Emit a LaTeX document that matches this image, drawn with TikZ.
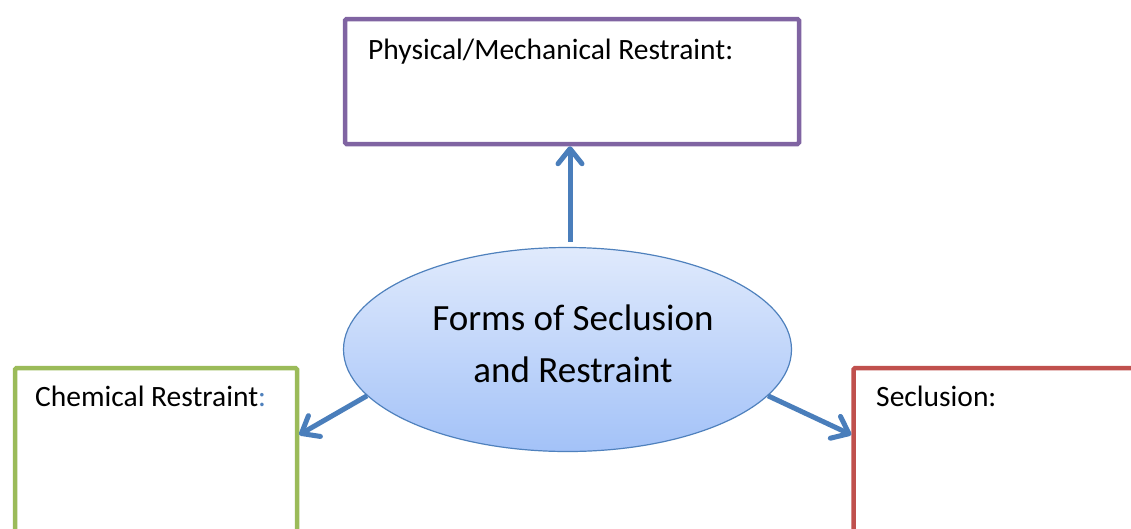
\documentclass[tikz,border=0pt]{standalone}
\usepackage{fontspec}
\setmainfont{Carlito}
\usetikzlibrary{shapes.geometric,arrows.meta,calc}
\definecolor{arrblue}{RGB}{74,126,187}
\definecolor{ellborder}{RGB}{79,129,189}
\definecolor{elltop}{RGB}{224,234,252}
\definecolor{ellbot}{RGB}{163,194,248}
\definecolor{purp}{RGB}{128,100,162}
\definecolor{grn}{RGB}{155,187,89}
\definecolor{rd}{RGB}{192,80,77}
\definecolor{colonblue}{RGB}{79,129,189}
\begin{document}
\begin{tikzpicture}[x=1pt,y=-1pt,
  box/.style={draw, line width=4.5pt, rounded corners=1.5pt, inner sep=0pt, fill=white},
  lbl/.style={anchor=base west, inner sep=0pt, font=\fontsize{29.5}{35}\selectfont},
  arr/.style={draw=arrblue, line width=5pt, -{Straight Barb[length=15pt,width=24pt,round]}}]
\useasboundingbox (0,0) rectangle (1131,528);
\clip (0,0) rectangle (1131,528);
\fill[white] (0,0) rectangle (1131,528);
% boxes
\node[box, draw=purp, minimum width=454pt, minimum height=125pt] (phys) at (572,81.5) {};
\node[box, draw=grn, minimum width=282pt, minimum height=232pt] (chem) at (156,484) {};
\node[box, draw=rd, minimum width=346pt, minimum height=232pt] (secl) at (1026.5,484) {};
% labels
\node[lbl] (physlbl) at (368,59) {Physical/Mechanical Restraint:};
\node[lbl] (chemlbl) at (35,406) {Chemical Restraint\textcolor{colonblue}{:}};
\node[lbl] (secllbl) at (876,406) {Seclusion:};
% hub
\node[ellipse, draw=ellborder, line width=1.2pt, top color=elltop, bottom color=ellbot,
      minimum width=448pt, minimum height=204pt, inner sep=0pt] (hub) at (567.5,349.5) {};
\node[align=center, inner sep=0pt, font=\fontsize{37}{52}\selectfont] (hubtext) at (573,344)
  {Forms of Seclusion\\and Restraint};
% arrows
\draw[arr] ([xshift=2.5pt,yshift=5pt]hub.north) coordinate (s1) -- (s1 |- phys.south);
\draw[arr] (hub.193) -- ($(chem.north east)+(0,69)$);
\draw[arr] (hub.347) -- ($(secl.north west)+(0,69)$);
\end{tikzpicture}
\end{document}
